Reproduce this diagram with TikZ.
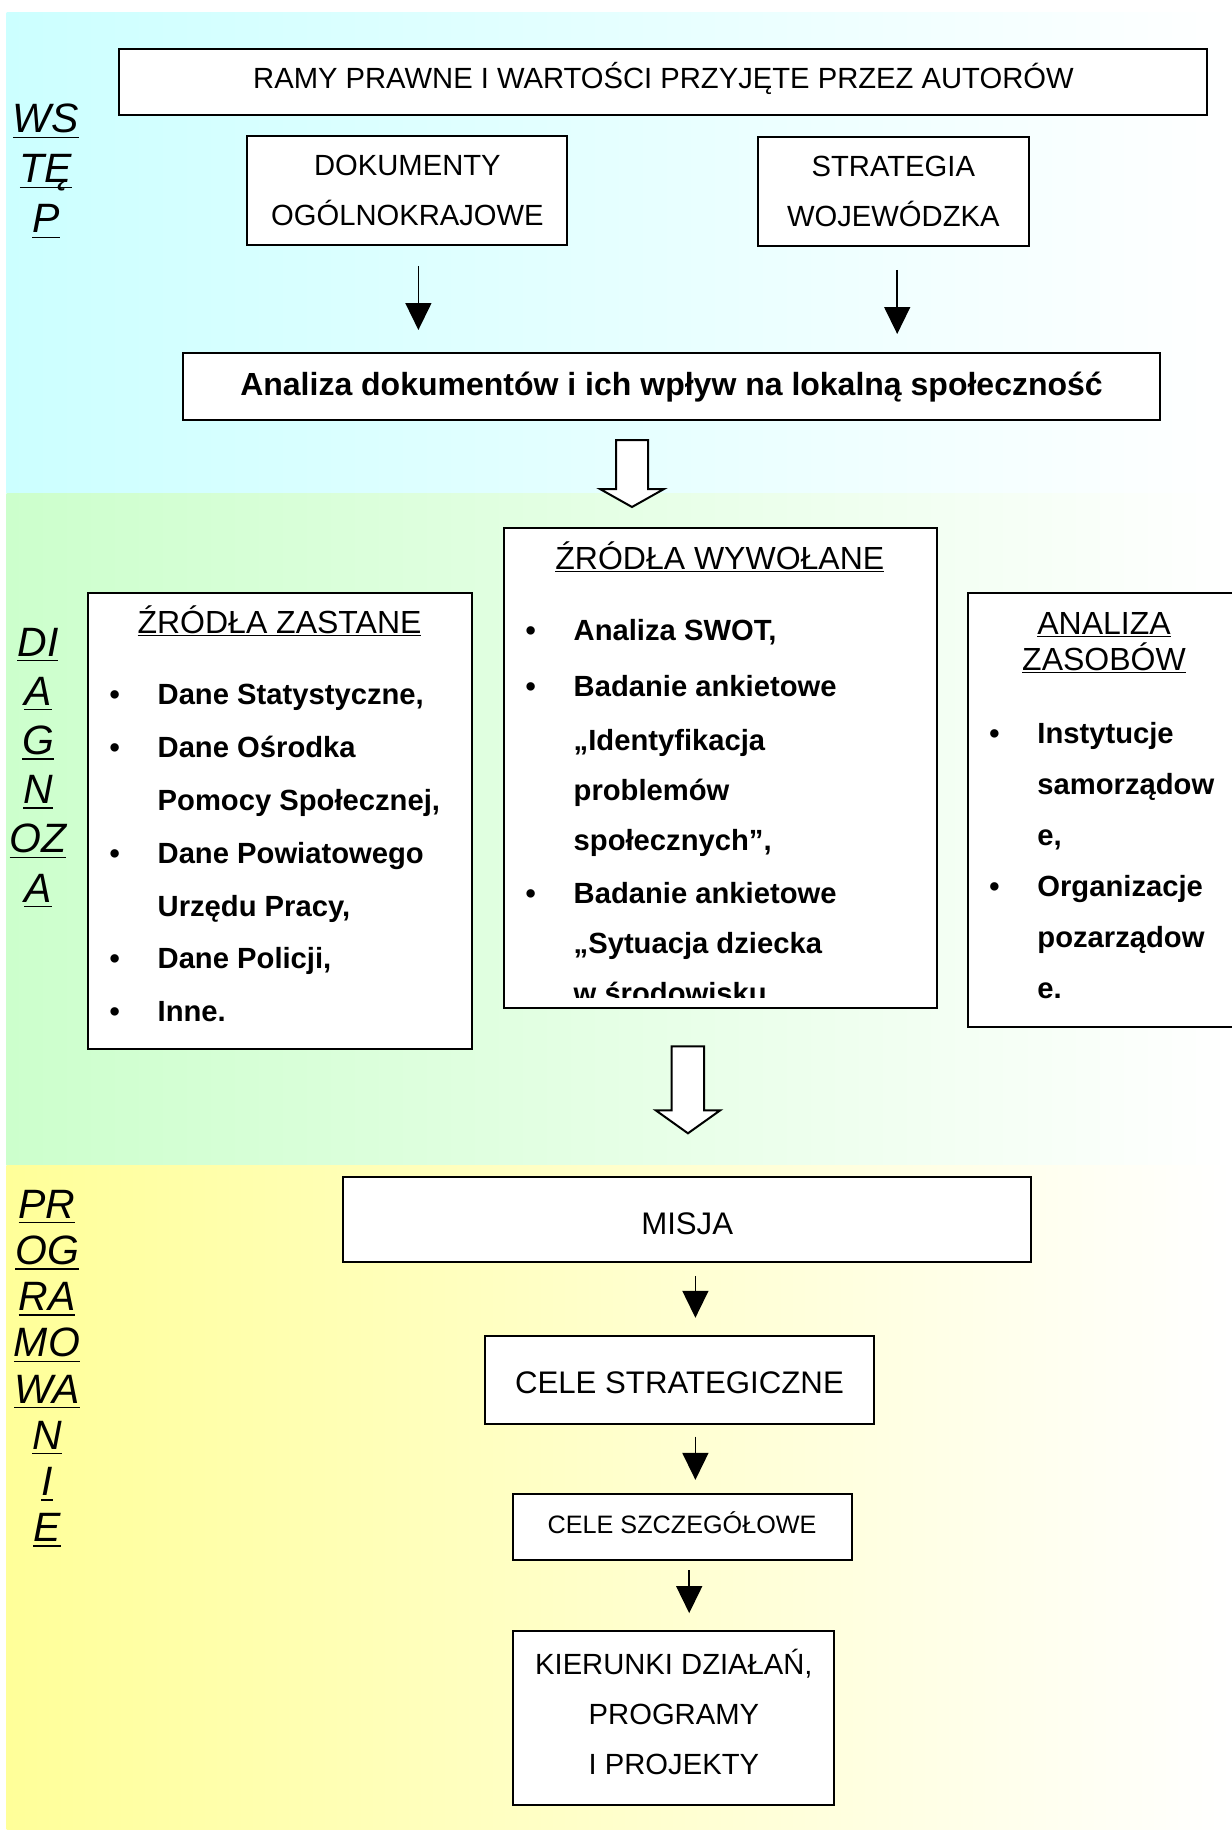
\documentclass[tikz,border=0pt]{standalone}
\usepackage{fontspec}
\setmainfont{Liberation Sans}
\usetikzlibrary{positioning,arrows.meta}

\newsavebox\ulbx
\newcommand\undl[2][1.5pt]{\sbox\ulbx{#2}\rlap{\rule[-#1]{\wd\ulbx}{0.7pt}}\usebox\ulbx}
\newcommand\itm{\makebox[24pt][l]{\textbullet}}
\newcommand\cnt{\makebox[24pt]{}}

\begin{document}
\begin{tikzpicture}[x=0.5pt, y=-0.5pt,
  box/.style={draw, line width=1pt, fill=white, inner sep=0pt, outer sep=0pt},
  one/.style={text height=#1, text depth=0pt},
  reg/.style={font=\fontsize{14.6}{25}\selectfont},
  ttl/.style={font=\fontsize{16}{18}\selectfont, inner sep=0pt},
  lst/.style={font=\fontsize{14.6}{#1}\selectfont\bfseries, align=left, inner sep=0pt, anchor=base west},
  side/.style={font=\fontsize{20.5}{#1}\selectfont\itshape, align=center, inner sep=0pt, anchor=base},
  arr/.style={line width=0.75pt, -{Triangle[width=13pt,length=13.5pt]}},
  hollow/.style={draw, line width=1pt, fill=white}]

  \useasboundingbox (0,0) rectangle (1231,1830);
  \fill[white] (0,0) rectangle (1231,1830);
  \fill[left color=cyan!20, right color=white] (6.5,13) rectangle (1231,493);
  \fill[left color=green!20, right color=white] (6.5,493) rectangle (1231,1165);
  \fill[left color=yellow!40, right color=white] (6.5,1165) rectangle (1231,1830);

  \node[side=25pt] (wst) at (46,233) {\undl[2.6pt]{WS}\\\undl[2.6pt]{TĘ}\\\undl[2.6pt]{P}};
  \node[side=24.6pt] (diag) at (38,902) {\undl[2.6pt]{DI}\\\undl[2.6pt]{A}\\\undl[2.6pt]{G}\\\undl[2.6pt]{N}\\\undl[2.6pt]{OZ}\\\undl[2.6pt]{A}};
  \node[side=23.1pt] (prog) at (47,1541.6) {\undl[2.6pt]{PR}\\\undl[2.6pt]{OG}\\\undl[2.6pt]{RA}\\\undl[2.6pt]{MO}\\\undl[2.6pt]{WA}\\\undl[2.6pt]{N}\\\undl[2.6pt]{I}\\\undl[2.6pt]{E}};

  \node[box, reg, one=6.2pt, minimum width=544pt, minimum height=33pt] (ramy) at (663.4,82.2) {RAMY PRAWNE I WARTOŚCI PRZYJĘTE PRZEZ AUTORÓW};
  \node[box, reg, align=center, minimum width=160pt, minimum height=54.5pt] (dok) [below=10.4pt of ramy, xshift=-128pt] {DOKUMENTY\\OGÓLNOKRAJOWE};
  \node[box, reg, align=center, minimum width=135.75pt, minimum height=54.5pt] (str) [below=10.9pt of ramy, xshift=114.95pt] {STRATEGIA\\WOJEWÓDZKA};
  \node[box, one=8.8pt, font=\fontsize{16}{18}\selectfont\bfseries, minimum width=488.5pt, minimum height=33.5pt] (anal) [below=54pt of dok, xshift=132.05pt] {Analiza dokumentów i ich wpływ na lokalną społeczność};

  \node[box, minimum width=192pt, minimum height=228pt] (zast) at (280.3,821.3) {};
  \node[box, minimum width=216.35pt, minimum height=239.85pt] (wyw) [below=54pt of anal, xshift=24.4pt] {};
  \node[box, minimum width=135.7pt, minimum height=217.15pt] (zas) at (1104,809.9) {};

  \node[ttl, anchor=base] (zastT) at (279.5,633.3) {\undl{ŹRÓDŁA ZASTANE}};
  \node[lst=26.4pt] (zastL) at (109.3,1021.7) {\itm Dane Statystyczne,\\\itm Dane Ośrodka\\\cnt Pomocy Społecznej,\\\itm Dane Powiatowego\\\cnt Urzędu Pracy,\\\itm Dane Policji,\\\itm Inne.};

  \node[ttl, anchor=base] (wywT) at (719.8,569.3) {\undl{ŹRÓDŁA WYWOŁANE}};
  \begin{scope}
    \clip (wyw.north west) rectangle ([yshift=5pt]wyw.south east);
    \node[lst=25pt] (wywL) at (525.3,1003.3) {\itm Analiza SWOT,\\[3pt]\itm Badanie ankietowe\\[1.65pt]\cnt „Identyfikacja\\\cnt problemów\\\cnt społecznych”,\\[1.65pt]\itm Badanie ankietowe\\\cnt „Sytuacja dziecka\\\cnt w środowisku};
  \end{scope}

  \node[ttl, align=center, anchor=base] (zasT) at (1104,670) {\undl{ANALIZA}\\\undl{ZASOBÓW}};
  \node[lst=25.5pt] (zasL) at (989,998) {\itm Instytucje\\\cnt samorządow\\\cnt e,\\\itm Organizacje\\\cnt pozarządow\\\cnt e.};

  \node[box, one=14.4pt, font=\fontsize{15.6}{18}\selectfont, minimum width=344.2pt, minimum height=42.7pt] (misja) at (687.2,1219.6) {MISJA};
  \node[box, one=13.3pt, font=\fontsize{15.6}{18}\selectfont, minimum width=194.25pt, minimum height=44pt] (cele) [below=37pt of misja, xshift=-3.9pt] {CELE STRATEGICZNE};
  \node[box, one=6.4pt, font=\fontsize{12.6}{15}\selectfont, minimum width=169.5pt, minimum height=33pt] (szcz) [below=35pt of cele, xshift=1.35pt] {CELE SZCZEGÓŁOWE};
  \node[box, reg, align=center, minimum width=160.5pt, minimum height=87.15pt] (kier) [below=35.25pt of szcz, xshift=-4.1pt] {KIERUNKI DZIAŁAŃ,\\PROGRAMY\\I PROJEKTY\rule[-5.8pt]{0pt}{0pt}};

  \draw[arr] (dok.south) ++(11,21) -- ++(0,64);
  \draw[arr] (str.south) ++(3.9,24) -- ++(0,64);
  \draw[hollow] (anal.south) ++(-55.5,20) -- ++(32,0) -- ++(0,49) -- ++(16,0) -- ++(-32,18) -- ++(-32,-18) -- ++(16,0) -- cycle;
  \draw[hollow] (wyw.south) ++(-48.6,38.6) -- ++(32.5,0) -- ++(0,64) -- ++(16,0) -- ++(-32.25,23) -- ++(-32.25,-23) -- ++(16,0) -- cycle;
  \draw[arr] (misja.south) ++(8.2,13.5) -- ++(0,42);
  \draw[arr] (cele.south) ++(16,12.2) -- ++(0,43.4);
  \draw[arr] (szcz.south) ++(7.1,9.8) -- ++(0,43);
\end{tikzpicture}
\end{document}
